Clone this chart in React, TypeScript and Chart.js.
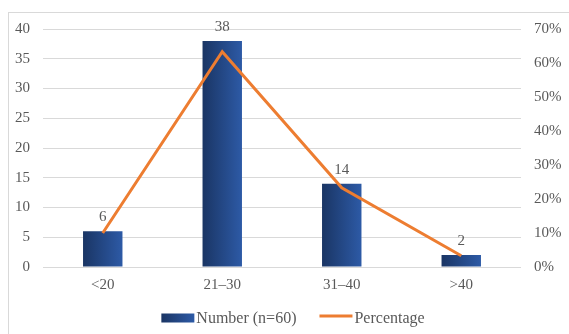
import { useEffect, useRef } from "react";
import { Chart, registerables } from "chart.js";

Chart.register(...registerables);

const categories = ["<20", "21–30", "31–40", ">40"];
const numberValues = [6, 38, 14, 2];
const percentageValues = [10, 63.3, 23.3, 3.3];
const seriesLabels = ["Number (n=60)", "Percentage"];

const FONT = "'Liberation Serif', 'Times New Roman', serif";
const TEXT = "#595959";
const BAR_PCT = 0.33;
const ORANGE = "#ed7d31";

function barGradient(c: CanvasRenderingContext2D, x0: number, x1: number) {
  if (!isFinite(x0) || !isFinite(x1) || x1 <= x0) return "#244a8f";
  const g = c.createLinearGradient(x0, 0, x1, 0);
  g.addColorStop(0, "#1a3564");
  g.addColorStop(1, "#2d5aa6");
  return g;
}

const dataLabelsPlugin = {
  id: "dataLabels",
  afterDatasetsDraw(chart: any) {
    const meta = chart.getDatasetMeta(0);
    const c = chart.ctx;
    c.save();
    c.font = `15px ${FONT}`;
    c.fillStyle = TEXT;
    c.textAlign = "center";
    c.textBaseline = "alphabetic";
    meta.data.forEach((el: any, i: number) => {
      c.fillText(String(chart.data.datasets[0].data[i]), el.x, el.y - 10);
    });
    c.restore();
  },
};

const legendPlugin = {
  id: "customLegend",
  afterDraw(chart: any) {
    const c = chart.ctx;
    const area = chart.chartArea;
    c.save();
    c.font = `16px ${FONT}`;
    const sw = 33;
    const gapText = 2;
    const gapItem = 23;
    const ds = chart.data.datasets;
    const w0 = c.measureText(ds[0].label).width;
    const w1 = c.measureText(ds[1].label).width;
    const total = sw + gapText + w0 + gapItem + sw + gapText + w1;
    let x = (area.left + area.right) / 2 + 11 - total / 2;
    const y = 318;
    c.fillStyle = barGradient(c, x, x + sw);
    c.fillRect(x, y - 4.5, sw, 9);
    x += sw + gapText;
    c.fillStyle = TEXT;
    c.textAlign = "left";
    c.textBaseline = "middle";
    c.fillText(ds[0].label, x, y + 1);
    x += w0 + gapItem;
    c.strokeStyle = ORANGE;
    c.lineWidth = 3;
    c.beginPath();
    c.moveTo(x, y - 2);
    c.lineTo(x + sw, y - 2);
    c.stroke();
    x += sw + gapText;
    c.fillStyle = TEXT;
    c.fillText(ds[1].label, x, y + 1);
    c.restore();
  },
};

export default function App() {
  const ref = useRef<HTMLCanvasElement | null>(null);

  useEffect(() => {
    if (!ref.current) return;
    const chart = new Chart(ref.current, {
      type: "bar",
      data: {
        labels: categories,
        datasets: [
          {
            type: "bar",
            label: seriesLabels[0],
            data: numberValues,
            yAxisID: "y",
            order: 1,
            barPercentage: BAR_PCT,
            categoryPercentage: 1,
            backgroundColor: (ctx: any) => {
              const chart = ctx.chart;
              const xs = chart.scales?.x;
              if (!xs || ctx.type !== "data") return "#244a8f";
              const cx = xs.getPixelForValue(ctx.dataIndex);
              const half = ((xs.width / categories.length) * BAR_PCT) / 2;
              return barGradient(chart.ctx, cx - half, cx + half);
            },
            borderWidth: 0,
          } as any,
          {
            type: "line",
            label: seriesLabels[1],
            data: percentageValues,
            yAxisID: "y1",
            order: 0,
            borderColor: ORANGE,
            backgroundColor: ORANGE,
            borderWidth: 3,
            pointRadius: 0,
            tension: 0,
            fill: false,
          } as any,
        ],
      },
      options: {
        animation: false,
        responsive: true,
        maintainAspectRatio: false,
        layout: { padding: { left: 0, right: 0, top: 29, bottom: 37 } },
        plugins: {
          legend: { display: false },
          tooltip: { enabled: false },
        },
        scales: {
          x: {
            grid: { display: false, drawTicks: false },
            border: { display: false },
            ticks: { color: TEXT, font: { family: FONT, size: 15 }, padding: 9 },
            afterFit: (s: any) => {
              s.height = 30;
            },
          },
          y: {
            position: "left",
            min: 0,
            max: 40,
            ticks: { stepSize: 5, color: TEXT, font: { family: FONT, size: 15 }, padding: 13 },
            grid: { color: "#d9d9d9", lineWidth: 1, drawTicks: false },
            border: { display: false },
            afterFit: (s: any) => {
              s.width = 43;
            },
          },
          y1: {
            position: "right",
            min: 0,
            max: 70,
            ticks: {
              stepSize: 10,
              color: TEXT,
              font: { family: FONT, size: 15 },
              padding: 13,
              callback: (v: any) => `${v}%`,
            },
            grid: { display: false, drawTicks: false },
            border: { display: false },
            afterFit: (s: any) => {
              s.width = 48;
            },
          },
        },
      },
      plugins: [dataLabelsPlugin, legendPlugin],
    });
    return () => chart.destroy();
  }, []);

  return (
    <div style={{ position: "fixed", left: 0, top: 0, width: 569, height: 334, background: "#ffffff", overflow: "hidden" }}>
      <div
        style={{
          position: "absolute",
          left: 8,
          top: 12,
          width: 600,
          height: 400,
          borderLeft: "1px solid #d9d9d9",
          borderTop: "1px solid #d9d9d9",
        }}
      />
      <div style={{ position: "absolute", left: 0, top: 0, width: 569, height: 334 }}>
        <canvas ref={ref} />
      </div>
    </div>
  );
}
